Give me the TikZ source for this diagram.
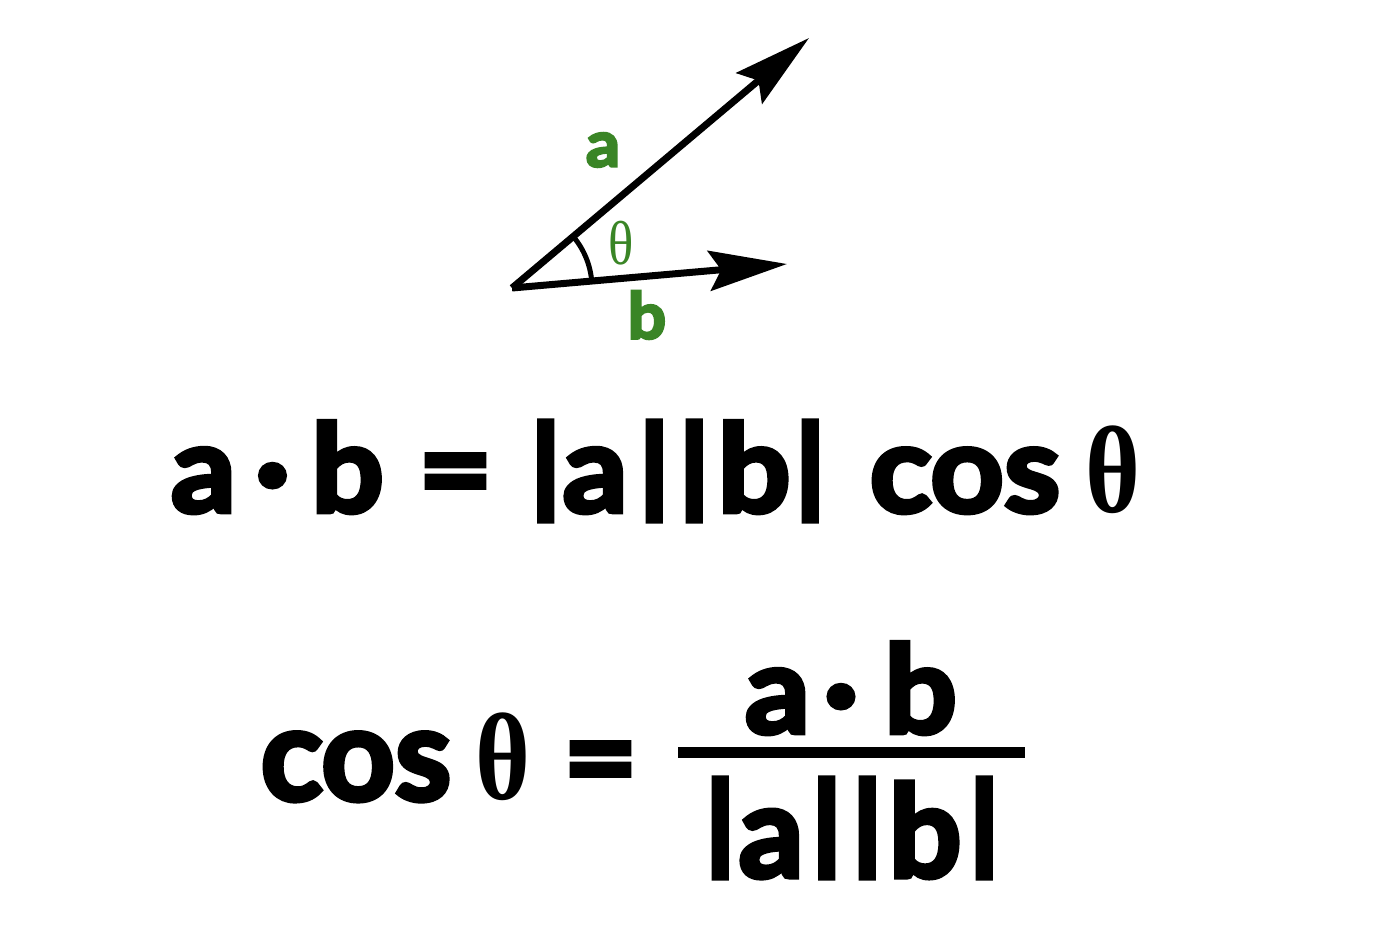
\documentclass[tikz,border=0pt]{standalone}
\usepackage{fontspec}
\usepackage{graphicx}
\newfontfamily\eqfont{Lato}[BoldFeatures={FakeBold=4,FakeStretch=1.05}]
\newfontfamily\thfont{Liberation Serif}
\definecolor{vecgreen}{RGB}{58,133,38}
\usetikzlibrary{calc}
\usetikzlibrary{positioning}
\usetikzlibrary{arrows.meta}
% glyphs centred on the current point
\newcommand\absbar[1]{\makebox[0pt]{\raisebox{#1}{\scalebox{1}[0.875]{|}}}}
\newcommand\ctrglyph[2][1]{\makebox[0pt]{\scalebox{1}[#1]{#2}}}

\begin{document}
\begin{tikzpicture}[x=1pt,y=-1pt,
  vec/.style={line width=7pt, -{Stealth[length=78pt,width=40pt,inset=12pt]}},
  big/.style={inner sep=0pt, anchor=base, font=\eqfont\bfseries\fontsize{122}{122}\selectfont},
  bigth/.style={inner sep=0pt, anchor=base, xscale=0.85, font=\thfont\bfseries\fontsize{124}{124}\selectfont},
  lbl/.style={vecgreen, inner sep=0pt, font=\eqfont\bfseries\fontsize{64}{64}\selectfont}]

  \useasboundingbox [fill=white] (0,0) rectangle (1378,942);

  % the two vectors
  \coordinate (O) at (512,288);
  \coordinate (A) at (809,38);
  \coordinate (B) at (787,264);
  \draw [vec] (O) -- (A);
  \draw [vec] (O) -- (B);
  \draw [line width=5pt] ($(O)!80pt!(A)$) arc [start angle=40.1, end angle=5, radius=80pt];

  \node [lbl] (la) at (603,150) {a};
  \node [lbl] (lb) at (647,315) {b};
  \node [vecgreen, inner sep=0pt, xscale=0.85, font=\thfont\fontsize{62}{62}\selectfont] (lth) at (621,243) {θ};

  % a.b = |a||b| cos
  \foreach \t/\x [count=\i] in {a/203.5, ·/272.5, b/347.5, =/455.5}
    \node [big] (top\i) at (\x,512) {\t};
  \node [big, anchor=base west] (absa) at (545.5,512)
    {\absbar{9pt}\kern49.5pt\ctrglyph{a}\kern59pt\absbar{9pt}\kern40pt\absbar{9pt}\kern60pt\ctrglyph{b}\kern56pt\absbar{9pt}};
  \node [big] (cosa) at (965,512) {cos};
  \node [bigth] (tha) at (1113,512) {θ};

  % cos = a.b / |a||b|
  \node [big, yscale=1.06] (cosb) at (356,800) {cos};
  \node [bigth] (thb) at (503,799) {θ};
  \node [big] (eqb) at (600.5,800) {=};
  \coordinate (fracl) at (678,752.5);
  \coordinate (fracr) at (1025,752.5);
  \draw [line width=11pt] (fracl) -- (fracr);
  \foreach \t/\x [count=\i] in {a/777.5, ·/841, b/920.5}
    \node [big] (num\i) at (\x,733) {\t};
  \node [big, anchor=base west] (absb) at (720,877)
    {\absbar{17pt}\kern51pt\ctrglyph[1.05]{a}\kern55.5pt\absbar{17pt}\kern40.5pt\absbar{17pt}\kern58pt\ctrglyph[1.05]{b}\kern59pt\absbar{17pt}};

\end{tikzpicture}
\end{document}
